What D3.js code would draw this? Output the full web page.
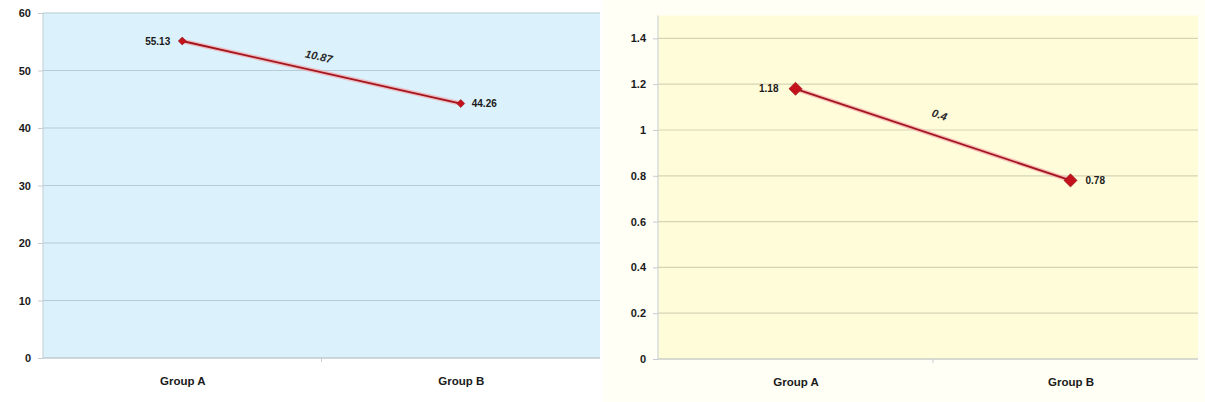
<!DOCTYPE html>
<html>
<head>
<meta charset="utf-8">
<script src="https://cdn.jsdelivr.net/npm/d3@7"></script>
<style>
  html, body { margin: 0; padding: 0; background: #ffffff; }
  svg { display: block; }
  text { font-family: "Liberation Sans", Arial, sans-serif; }
</style>
</head>
<body>
<svg id="chart" width="1205" height="402"></svg>
<script>
// Categories and values for the two panels
const categories = ["Group A", "Group B"];
const leftValues = [55.13, 44.26];
const rightValues = [1.18, 0.78];
const leftTicks = [0, 10, 20, 30, 40, 50, 60];
const rightTicks = [0, 0.2, 0.4, 0.6, 0.8, 1, 1.2, 1.4];
const leftTickLabels = ["0", "10", "20", "30", "40", "50", "60"];
const rightTickLabels = ["0", "0.2", "0.4", "0.6", "0.8", "1", "1.2", "1.4"];

const svg = d3.select("#chart");

// Faint backdrop of the right panel
svg.append("rect")
  .attr("x", 603).attr("y", 0).attr("width", 602).attr("height", 402)
  .attr("fill", "#fffff6");

function panel(opts) {
  const { values, ticks, tickLabels, yMax, left, right, plotRight, top, bottom,
          fill, grid, markerSize, labelGapL, labelGapR, diffOffset, diffShift } = opts;

  const x = d3.scalePoint().domain(categories).range([left, right]).padding(0.5);
  const y = d3.scaleLinear().domain([0, yMax]).range([bottom, top]);
  const g = svg.append("g");

  // plot area
  g.append("rect")
    .attr("x", left).attr("y", top)
    .attr("width", plotRight - left).attr("height", bottom - top)
    .attr("fill", fill);

  // horizontal gridlines
  g.selectAll("line.grid").data(ticks).join("line")
    .attr("class", "grid")
    .attr("x1", left).attr("x2", plotRight)
    .attr("y1", d => y(d)).attr("y2", d => y(d))
    .attr("stroke", grid).attr("stroke-width", 1.2);

  // y axis
  const yAxis = d3.axisLeft(y).tickValues(ticks)
    .tickFormat((d, i) => tickLabels[i]).tickSize(5).tickPadding(7);
  const ya = g.append("g").attr("transform", `translate(${left},0)`).call(yAxis);
  ya.select(".domain").attr("stroke", "#c3cdd2").attr("d", `M0,${y(yMax)}V${bottom}`);
  ya.selectAll(".tick line").attr("stroke", "#c3cdd2");
  ya.selectAll("text").attr("fill", "#1a1a1a").attr("font-size", 11)
    .attr("font-weight", "bold");

  // x axis
  const xAxis = d3.axisBottom(x).tickSize(0).tickPadding(19);
  const xa = g.append("g").attr("transform", `translate(0,${bottom})`).call(xAxis);
  xa.select(".domain").attr("stroke", "#c3cdd2").attr("d", `M${left},0H${plotRight}`);
  xa.selectAll("text").attr("fill", "#1a1a1a").attr("font-size", 11.5)
    .attr("font-weight", "bold");
  g.append("line")
    .attr("x1", (x(categories[0]) + x(categories[1])) / 2)
    .attr("x2", (x(categories[0]) + x(categories[1])) / 2)
    .attr("y1", bottom).attr("y2", bottom + 4)
    .attr("stroke", "#c3cdd2");

  const pts = categories.map((c, i) => [x(c), y(values[i])]);
  const line = d3.line();

  // soft halo under the connecting line
  g.append("path").attr("d", line(pts))
    .attr("fill", "none").attr("stroke", "#f2a6ad").attr("stroke-width", 4.5)
    .attr("stroke-opacity", 0.7);
  g.append("path").attr("d", line(pts))
    .attr("fill", "none").attr("stroke", "#a3141b").attr("stroke-width", 1.8);

  // diamond markers
  g.selectAll("path.marker").data(pts).join("path")
    .attr("class", "marker")
    .attr("transform", d => `translate(${d[0]},${d[1]})`)
    .attr("d", d3.symbol(d3.symbolDiamond2, markerSize))
    .attr("fill", "#c4121d").attr("stroke", "#8e0d12").attr("stroke-width", 0.6);

  // value labels
  g.append("text")
    .attr("x", pts[0][0] - labelGapL).attr("y", pts[0][1])
    .attr("dy", "0.35em").attr("text-anchor", "end")
    .attr("font-size", 10).attr("font-weight", "bold").attr("fill", "#1a1a1a")
    .text(values[0]);
  g.append("text")
    .attr("x", pts[1][0] + labelGapR).attr("y", pts[1][1])
    .attr("dy", "0.35em").attr("text-anchor", "start")
    .attr("font-size", 10).attr("font-weight", "bold").attr("fill", "#1a1a1a")
    .text(values[1]);

  // difference label along the line
  const mx = (pts[0][0] + pts[1][0]) / 2, my = (pts[0][1] + pts[1][1]) / 2;
  const ang = Math.atan2(pts[1][1] - pts[0][1], pts[1][0] - pts[0][0]) * 180 / Math.PI;
  const diff = +(values[0] - values[1]).toFixed(2);
  g.append("text")
    .attr("transform", `translate(${mx},${my}) rotate(${ang})`)
    .attr("x", diffShift).attr("y", -diffOffset)
    .attr("text-anchor", "middle")
    .attr("font-size", 11).attr("font-style", "italic").attr("font-weight", "bold")
    .attr("fill", "#2a2a2a")
    .text(String(diff));
}

panel({
  values: leftValues, ticks: leftTicks, tickLabels: leftTickLabels, yMax: 60,
  left: 43, right: 600, plotRight: 600, top: 13, bottom: 358,
  fill: "#dbf1fb", grid: "#b5ccd6", markerSize: 40,
  labelGapL: 12, labelGapR: 11, diffOffset: 11, diffShift: -6
});

panel({
  values: rightValues, ticks: rightTicks, tickLabels: rightTickLabels, yMax: 1.5,
  left: 658, right: 1208, plotRight: 1198, top: 15.5, bottom: 359,
  fill: "#fffcd9", grid: "#d5d4b4", markerSize: 110,
  labelGapL: 17, labelGapR: 15, diffOffset: 17, diffShift: 0
});
</script>
</body>
</html>
